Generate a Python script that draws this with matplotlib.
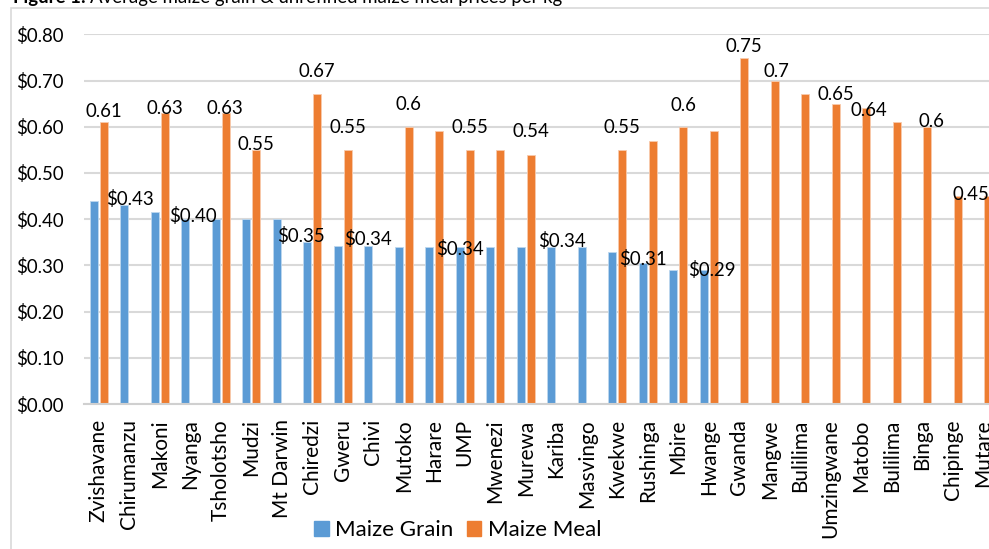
import numpy as np
import matplotlib
matplotlib.use("Agg")
import matplotlib.pyplot as plt
from matplotlib.patches import Patch, Rectangle

plt.rcParams['font.family'] = ['Lato', 'DejaVu Sans']

categories = ["Zvishavane", "Chirumanzu", "Makoni", "Nyanga", "Tsholotsho", "Mudzi",
              "Mt Darwin", "Chiredzi", "Gweru", "Chivi", "Mutoko", "Harare", "UMP",
              "Mwenezi", "Murewa", "Kariba", "Masvingo", "Kwekwe", "Rushinga", "Mbire",
              "Hwange", "Gwanda", "Mangwe", "Bulilima", "Umzingwane", "Matobo",
              "Bulilima", "Binga", "Chipinge", "Mutare"]
nan = np.nan
maize_grain = [0.44, 0.43, 0.415, 0.40, 0.40, 0.40, 0.40, 0.35, 0.343, 0.343,
               0.34, 0.34, 0.34, 0.34, 0.34, 0.34, 0.34, 0.328, 0.306, 0.29,
               0.29, nan, nan, nan, nan, nan, nan, nan, nan, nan]
maize_meal = [0.61, nan, 0.63, nan, 0.63, 0.55, nan, 0.67, 0.55, nan,
              0.60, 0.59, 0.55, 0.55, 0.54, nan, nan, 0.55, 0.57, 0.60,
              0.59, 0.75, 0.70, 0.67, 0.65, 0.64, 0.61, 0.60, 0.45, 0.45]
# data labels: category index -> (text, dx px, dy px of baseline above bar top)
grain_labels = {1: ("$0.43", 5.5, 0), 3: ("$0.40", 7.5, -3), 7: ("$0.35", -6, 0),
                9: ("$0.34", 0, 1), 12: ("$0.34", 0, -8), 15: ("$0.34", 11, 0),
                18: ("$0.31", 0, -2), 20: ("$0.29", 8.5, -6)}
meal_labels = {0: ("0.61", 0, 5.5), 2: ("0.63", 0, -1.5), 4: ("0.63", -1, -1.5),
               5: ("0.55", 0, 0), 7: ("0.67", 0, 17), 8: ("0.55", 0, 17),
               10: ("0.6", 0, 17), 12: ("0.55", 0, 17), 14: ("0.54", 0, 18),
               17: ("0.55", 0, 17), 19: ("0.6", 0, 16), 21: ("0.75", 0, 6),
               22: ("0.7", 2, 4), 24: ("0.65", 0, 4), 25: ("0.64", 2.5, -8),
               27: ("0.6", 4.5, 0), 28: ("0.45", 13, -4)}

blue = '#5B9BD5'
orange = '#ED7D31'
grid_c = '#D9D9D9'

W, H = 989, 549
fig = plt.figure(figsize=(W / 100, H / 100), dpi=100)
ax = fig.add_axes([83.5 / W, 145 / H, 915 / W, 369.6 / H])

x = np.arange(len(categories))
bw = 0.255
off = 0.164
ax.bar(x - off, maize_grain, bw, color=blue, edgecolor='#BDD7EE', linewidth=0.6, zorder=2)
ax.bar(x + off, maize_meal, bw, color=orange, edgecolor='#F8CBAD', linewidth=0.6, zorder=2)

px = 0.72
for i, (t, dx, dy) in grain_labels.items():
    ax.annotate(t, xy=(x[i] - off, maize_grain[i]), xytext=(dx * px, dy * px),
                textcoords='offset points', ha='center', va='baseline',
                fontsize=13.4, color='black', zorder=5)
for i, (t, dx, dy) in meal_labels.items():
    ax.annotate(t, xy=(x[i] + off, maize_meal[i]), xytext=(dx * px, dy * px),
                textcoords='offset points', ha='center', va='baseline',
                fontsize=13.4, color='black', zorder=5)

ax.set_xlim(-0.5, len(categories) - 0.5)
ax.set_ylim(0, 0.8)
yt = np.round(np.arange(0, 0.81, 0.1), 2)
ax.set_yticks(yt)
ax.set_yticklabels([f"${v:.2f}" for v in yt])
ax.set_xticks(x)
ax.set_xticklabels(categories, rotation=90, fontsize=15)
ax.tick_params(axis='x', length=0, pad=11)
ax.tick_params(axis='y', length=0, pad=14.4, labelsize=13.4)
for s in ['top', 'right', 'left']:
    ax.spines[s].set_visible(False)
ax.spines['bottom'].set_color('#D0D0D0')
ax.spines['bottom'].set_linewidth(1.5)
ax.yaxis.grid(True, color=grid_c, linewidth=1.5)
ax.set_axisbelow(True)

handles = [Patch(color=blue), Patch(color=orange)]
fig.legend(handles, ["Maize Grain", "Maize Meal"], loc='center',
           bbox_to_anchor=(458 / W, 1 - 530 / H), ncol=2, frameon=False,
           fontsize=16, handlelength=0.65, handleheight=0.65,
           handletextpad=0.3, columnspacing=0.6)

fig.patches.append(Rectangle((11 / W, -0.1), 1.2, (H - 8) / H + 0.1,
                             transform=fig.transFigure, fill=False,
                             edgecolor=grid_c, linewidth=1.2))

t1 = fig.text(13 / W, 1 - 3 / H, "Figure 1:", fontsize=13.4, fontweight='bold',
              va='baseline', ha='left')
fig.canvas.draw()
bb = t1.get_window_extent()
fig.text((bb.x1 + 4) / W, 1 - 3 / H,
         "Average maize grain & unrefined maize meal prices per kg",
         fontsize=13.4, va='baseline', ha='left')

fig.savefig("out.png", dpi=100)
